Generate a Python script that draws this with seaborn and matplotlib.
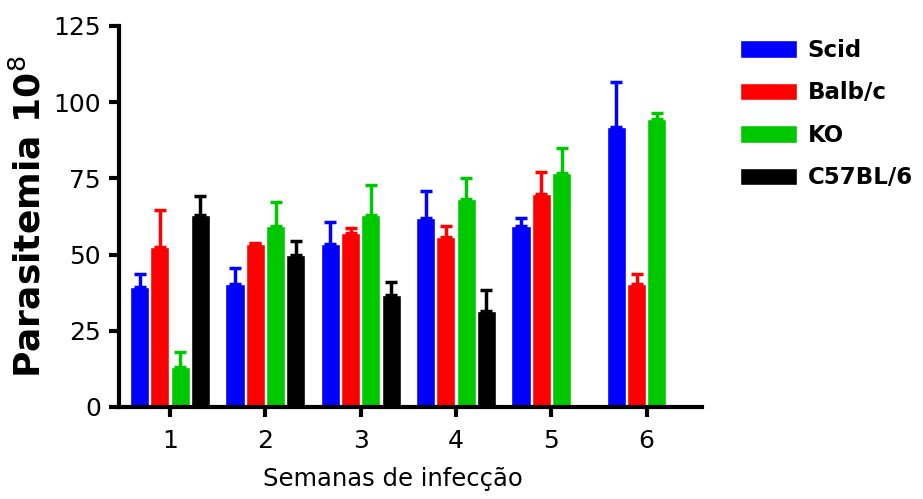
import numpy as np
import pandas as pd
import matplotlib
matplotlib.use("Agg")
import matplotlib.pyplot as plt
import seaborn as sns

# Datos (media y error superior)
semanas = ["1", "2", "3", "4", "5", "6"]
grupos = ["Scid", "Balb/c", "KO", "C57BL/6"]
colores = ["#0000FF", "#FF0000", "#00C800", "#000000"]

scid = [39.5, 40.3, 53.5, 61.9, 59.5, 91.8]
balb = [52.5, 53.5, 57.0, 55.9, 69.9, 40.3]
ko = [13.2, 59.5, 63.0, 68.2, 76.9, 94.5]
c57 = [63.0, 49.9, 36.7, 31.5, np.nan, np.nan]

err_scid = [4.1, 5.2, 7.1, 9.0, 2.6, 14.9]
err_balb = [12.1, 0.3, 1.6, 3.6, 7.1, 3.3]
err_ko = [4.9, 7.9, 9.8, 7.0, 8.0, 1.9]
err_c57 = [6.2, 4.6, 4.2, 6.9, np.nan, np.nan]

medias = [scid, balb, ko, c57]
errores = [err_scid, err_balb, err_ko, err_c57]

df = pd.DataFrame({
    "semana": semanas * len(grupos),
    "grupo": [g for g in grupos for _ in semanas],
    "valor": [v for serie in medias for v in serie],
    "error": [e for serie in errores for e in serie],
})

sns.set_style("ticks")
plt.rcParams["font.family"] = ["DejaVu Sans"]
plt.rcParams["text.color"] = "black"
plt.rcParams["axes.labelcolor"] = "black"
plt.rcParams["xtick.color"] = "black"
plt.rcParams["ytick.color"] = "black"
plt.rcParams["axes.edgecolor"] = "black"

fig = plt.figure(figsize=(9.23, 4.99), dpi=100)
ax = fig.add_axes([0.129, 0.1844, 0.6316, 0.7636])

sns.barplot(data=df, x="semana", y="valor", hue="grupo", order=semanas,
            hue_order=grupos, palette=colores, errorbar=None, width=0.85,
            gap=0.06, saturation=1, ax=ax)

# barras de error solo hacia arriba, a partir de los rectangulos dibujados
contenedores = list(ax.containers)
for i, cont in enumerate(contenedores):
    for j, barra in enumerate(cont):
        v = medias[i][j]
        e = errores[i][j]
        if np.isnan(v):
            continue
        xc = barra.get_x() + barra.get_width() / 2
        ax.errorbar([xc], [v], yerr=[[0], [e]], fmt="none", ecolor=colores[i],
                    elinewidth=2.5, capsize=4, capthick=2.5, zorder=1)

ax.set_ylim(0, 125)
ax.set_xlim(-0.535, 5.58)
ax.set_yticks([0, 25, 50, 75, 100, 125])
ax.tick_params(axis="both", labelsize=18, width=3, length=7, pad=6)
ax.tick_params(axis="x", pad=9)
for lado in ["left", "bottom"]:
    ax.spines[lado].set_linewidth(3)
sns.despine(ax=ax)

ax.set_ylabel("Parasitemia 10$^{8}$", fontsize=26, fontweight="bold", labelpad=4)
ax.set_xlabel("Semanas de infecção", fontsize=17.5, labelpad=10)
ax.xaxis.label.set_x(0.47)

leg = ax.legend(loc="upper left", bbox_to_anchor=(1.03, 1.02), frameon=False,
                fontsize=16.5, handlelength=2.5, handleheight=0.8,
                labelspacing=0.85, handletextpad=0.45)
for t in leg.get_texts():
    t.set_fontweight("bold")

fig.savefig("out.png", dpi=100)
